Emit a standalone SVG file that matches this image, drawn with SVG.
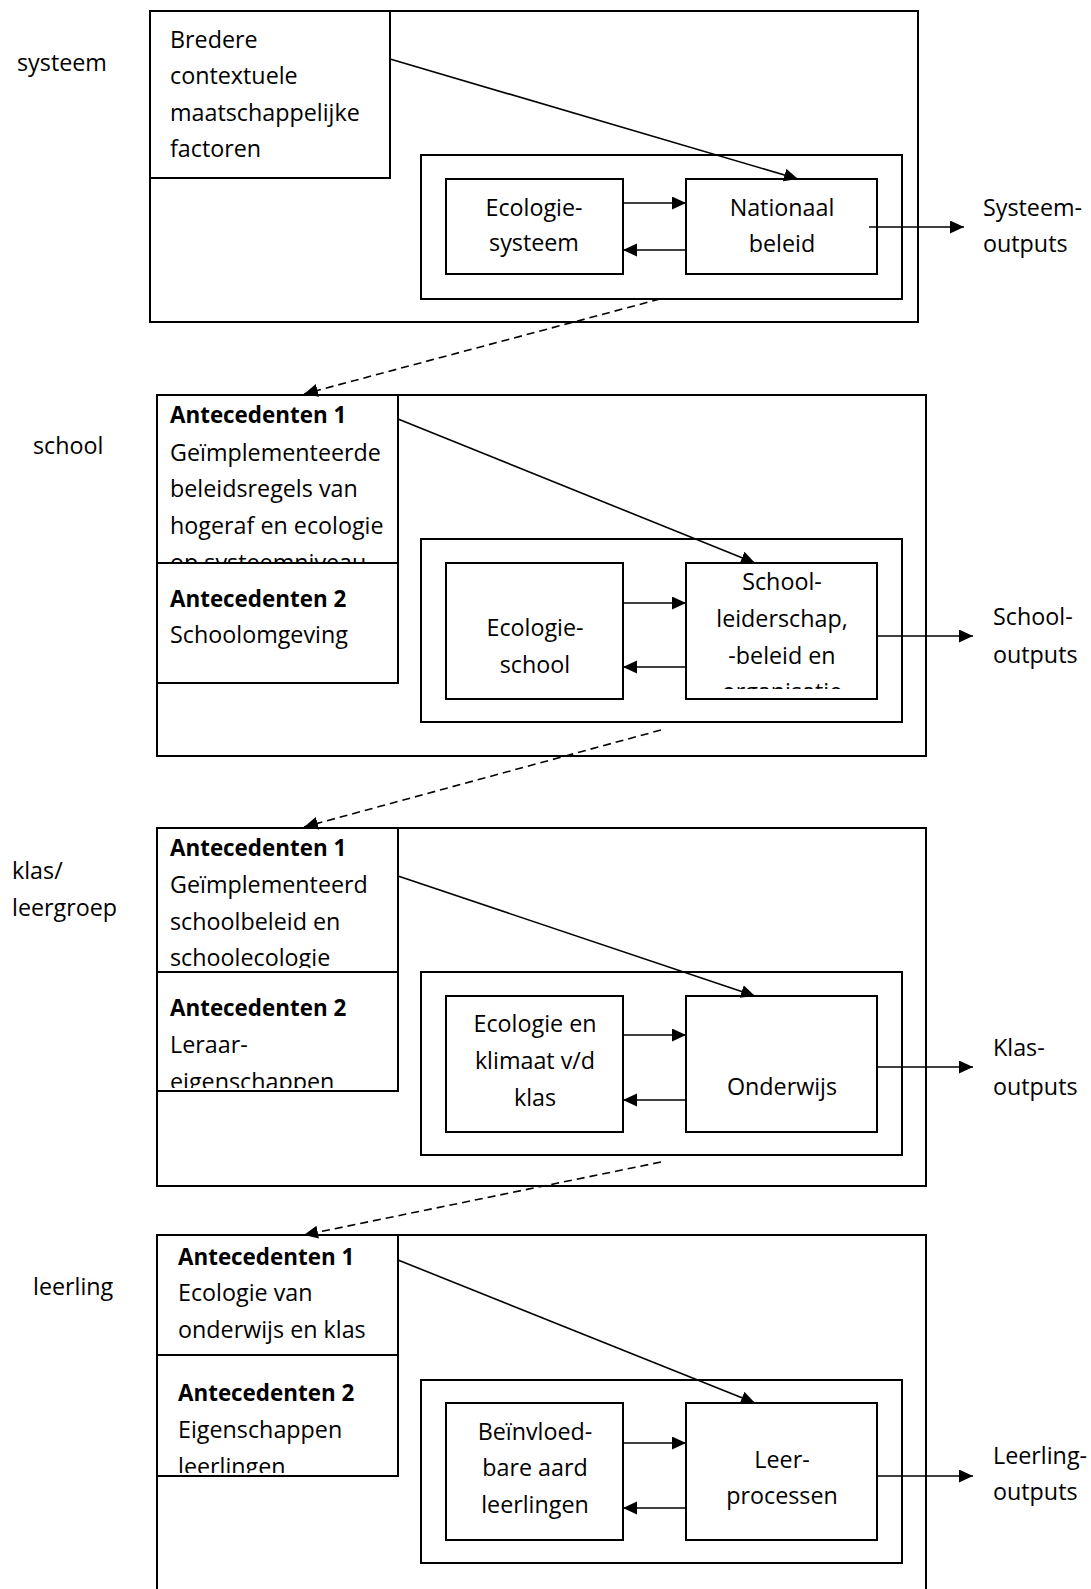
<svg xmlns="http://www.w3.org/2000/svg" width="1091" height="1589" viewBox="0 0 1091 1589">
<style>
text{font-family:"Open Sans","Liberation Sans",sans-serif;font-size:23.3px;fill:#000}
.b{font-weight:bold;font-size:22.4px}
.c{text-anchor:middle}
.box{fill:#fff;stroke:#000;stroke-width:2}
.frame{fill:none;stroke:#000;stroke-width:2}
.ln{fill:none;stroke:#000;stroke-width:1.6;marker-end:url(#ah)}
.dash{fill:none;stroke:#000;stroke-width:1.6;stroke-dasharray:8 5;marker-end:url(#ah)}
</style>
<defs>
<marker id="ah" markerUnits="userSpaceOnUse" markerWidth="16" markerHeight="14" refX="14" refY="6.5" orient="auto"><path d="M0,0 L14,6.5 L0,13 z" fill="#000"/></marker>
<clipPath id="cpS1"><rect x="157" y="395" width="241" height="167"/></clipPath>
<clipPath id="cpS3"><rect x="686" y="563" width="191" height="126"/></clipPath>
<clipPath id="cpK1"><rect x="157" y="828" width="241" height="140"/></clipPath>
<clipPath id="cpK2"><rect x="157" y="972" width="241" height="116"/></clipPath>
<clipPath id="cpL2"><rect x="157" y="1355" width="241" height="118"/></clipPath>
</defs>
<rect width="1091" height="1589" fill="#fff"/>

<!-- level labels -->
<g id="labels">
<text x="17" y="71">systeem</text>
<text x="33" y="454">school</text>
<text x="12" y="879">klas/</text>
<text x="12" y="916">leergroep</text>
<text x="33" y="1295">leerling</text>
</g>

<!-- SYSTEEM -->
<g id="systeem-outer"><rect class="frame" x="150" y="11" width="768" height="311"/></g>
<g id="systeem-inner"><rect class="frame" x="421" y="155" width="481" height="144"/></g>
<g id="bredere">
<rect class="box" x="150" y="11" width="240" height="167"/>
<text x="170" y="48">Bredere</text>
<text x="170" y="84">contextuele</text>
<text x="170" y="120.5">maatschappelijke</text>
<text x="170" y="157">factoren</text>
</g>
<g id="ecologie-systeem">
<rect class="box" x="446" y="179" width="177" height="95"/>
<text class="c" x="534" y="216">Ecologie-</text>
<text class="c" x="534" y="251">systeem</text>
</g>
<g id="nationaal-beleid">
<rect class="box" x="686" y="179" width="191" height="95"/>
<text class="c" x="782" y="216">Nationaal</text>
<text class="c" x="782" y="252">beleid</text>
</g>
<g id="systeem-outputs">
<text x="983" y="216">Systeem-</text>
<text x="983" y="252">outputs</text>
</g>

<!-- SCHOOL -->
<g id="school-outer"><rect class="frame" x="157" y="395" width="769" height="361"/></g>
<g id="school-inner"><rect class="frame" x="421" y="539" width="481" height="183"/></g>
<g id="school-ant1">
<rect class="box" x="157" y="395" width="241" height="168"/>
<g clip-path="url(#cpS1)">
<text class="b" x="170" y="423">Antecedenten 1</text>
<text x="170" y="461">Geïmplementeerde</text>
<text x="170" y="497">beleidsregels van</text>
<text x="170" y="534">hogeraf en ecologie</text>
<text x="170" y="571">op systeemniveau</text>
</g>
</g>
<g id="school-ant2">
<rect class="box" x="157" y="563" width="241" height="120"/>
<text class="b" x="170" y="607">Antecedenten 2</text>
<text x="170" y="643">Schoolomgeving</text>
</g>
<g id="ecologie-school">
<rect class="box" x="446" y="563" width="177" height="136"/>
<text class="c" x="535" y="636">Ecologie-</text>
<text class="c" x="535" y="673">school</text>
</g>
<g id="schoolleiderschap">
<rect class="box" x="686" y="563" width="191" height="136"/>
<g clip-path="url(#cpS3)">
<text class="c" x="782" y="590">School-</text>
<text class="c" x="782" y="627">leiderschap,</text>
<text class="c" x="782" y="664">-beleid en</text>
<text class="c" x="782" y="700">organisatie</text>
</g>
</g>
<g id="school-outputs">
<text x="993" y="625">School-</text>
<text x="993" y="663">outputs</text>
</g>

<!-- KLAS -->
<g id="klas-outer"><rect class="frame" x="157" y="828" width="769" height="358"/></g>
<g id="klas-inner"><rect class="frame" x="421" y="972" width="481" height="183"/></g>
<g id="klas-ant1">
<rect class="box" x="157" y="828" width="241" height="144"/>
<g clip-path="url(#cpK1)">
<text class="b" x="170" y="856">Antecedenten 1</text>
<text x="170" y="893">Geïmplementeerd</text>
<text x="170" y="930">schoolbeleid en</text>
<text x="170" y="966">schoolecologie</text>
</g>
</g>
<g id="klas-ant2">
<rect class="box" x="157" y="972" width="241" height="119"/>
<g clip-path="url(#cpK2)">
<text class="b" x="170" y="1016">Antecedenten 2</text>
<text x="170" y="1053">Leraar-</text>
<text x="170" y="1090">eigenschappen</text>
</g>
</g>
<g id="ecologie-klas">
<rect class="box" x="446" y="996" width="177" height="136"/>
<text class="c" x="535" y="1032">Ecologie en</text>
<text class="c" x="535" y="1069">klimaat v/d</text>
<text class="c" x="535" y="1106">klas</text>
</g>
<g id="onderwijs">
<rect class="box" x="686" y="996" width="191" height="136"/>
<text class="c" x="782" y="1095">Onderwijs</text>
</g>
<g id="klas-outputs">
<text x="993" y="1056">Klas-</text>
<text x="993" y="1095">outputs</text>
</g>

<!-- LEERLING -->
<g id="leerling-outer"><rect class="frame" x="157" y="1235" width="769" height="370"/></g>
<g id="leerling-inner"><rect class="frame" x="421" y="1380" width="481" height="183"/></g>
<g id="leerling-ant1">
<rect class="box" x="157" y="1235" width="241" height="120"/>
<text class="b" x="178" y="1265">Antecedenten 1</text>
<text x="178" y="1301">Ecologie van</text>
<text x="178" y="1338">onderwijs en klas</text>
</g>
<g id="leerling-ant2">
<rect class="box" x="157" y="1355" width="241" height="121"/>
<g clip-path="url(#cpL2)">
<text class="b" x="178" y="1401">Antecedenten 2</text>
<text x="178" y="1438">Eigenschappen</text>
<text x="178" y="1475">leerlingen</text>
</g>
</g>
<g id="beinvloedbare">
<rect class="box" x="446" y="1403" width="177" height="137"/>
<text class="c" x="535" y="1440">Beïnvloed-</text>
<text class="c" x="535" y="1476">bare aard</text>
<text class="c" x="535" y="1513">leerlingen</text>
</g>
<g id="leerprocessen">
<rect class="box" x="686" y="1403" width="191" height="137"/>
<text class="c" x="782" y="1468">Leer-</text>
<text class="c" x="782" y="1504">processen</text>
</g>
<g id="leerling-outputs">
<text x="993" y="1464">Leerling-</text>
<text x="993" y="1500">outputs</text>
</g>

<!-- CONNECTORS -->
<g id="connectors">
<line class="ln" x1="390" y1="59" x2="798" y2="179"/>
<line class="ln" x1="623" y1="203" x2="686" y2="203"/>
<line class="ln" x1="686" y1="250" x2="623" y2="250"/>
<line class="ln" x1="869" y1="227" x2="964" y2="227"/>
<line class="dash" x1="660" y1="299" x2="304" y2="394"/>

<line class="ln" x1="398" y1="419" x2="755" y2="563"/>
<line class="ln" x1="623" y1="603" x2="686" y2="603"/>
<line class="ln" x1="686" y1="667" x2="623" y2="667"/>
<line class="ln" x1="877" y1="636" x2="973" y2="636"/>
<line class="dash" x1="661" y1="730" x2="304" y2="827"/>

<line class="ln" x1="398" y1="876" x2="755" y2="996"/>
<line class="ln" x1="623" y1="1035" x2="686" y2="1035"/>
<line class="ln" x1="686" y1="1100" x2="623" y2="1100"/>
<line class="ln" x1="877" y1="1067" x2="973" y2="1067"/>
<line class="dash" x1="661" y1="1162" x2="304" y2="1235"/>

<line class="ln" x1="398" y1="1260" x2="755" y2="1403"/>
<line class="ln" x1="623" y1="1443" x2="686" y2="1443"/>
<line class="ln" x1="686" y1="1508" x2="623" y2="1508"/>
<line class="ln" x1="877" y1="1476" x2="973" y2="1476"/>
</g>
</svg>
